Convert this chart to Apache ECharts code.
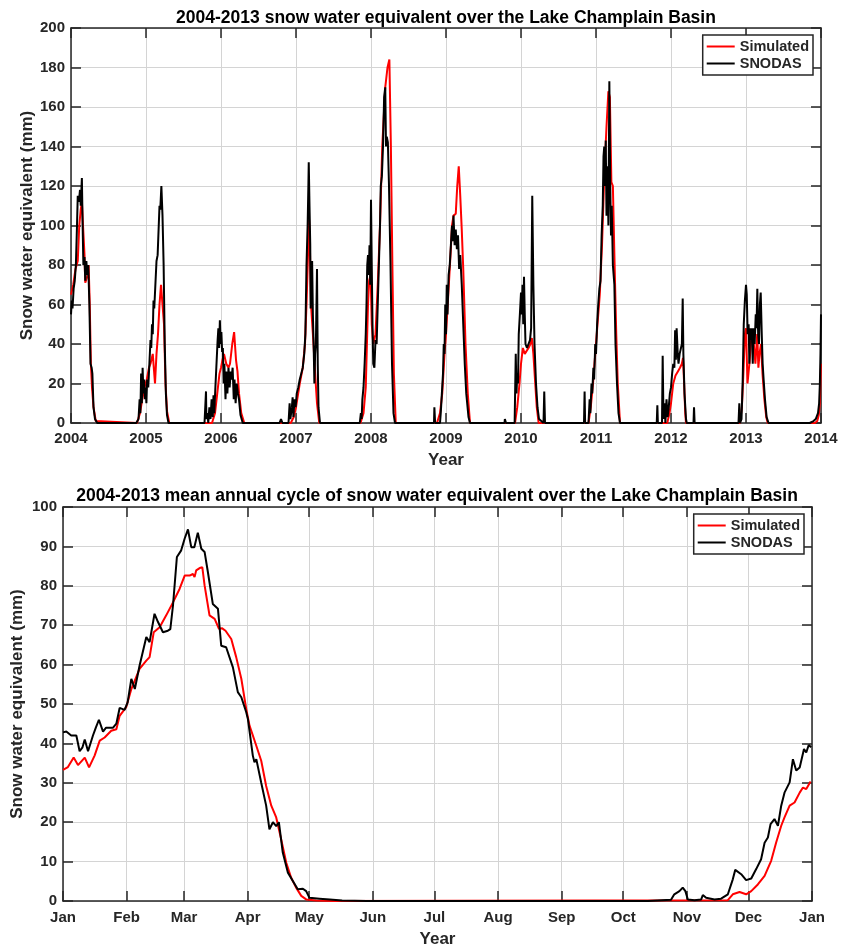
<!DOCTYPE html>
<html>
<head>
<meta charset="utf-8">
<title>Snow water equivalent - Lake Champlain Basin</title>
<script src="https://cdn.jsdelivr.net/npm/echarts@6/dist/echarts.min.js"></script>
<style>
  html, body { margin: 0; padding: 0; background: #fff; }
  #chart { width: 842px; height: 946px; }
</style>
</head>
<body>
<div id="chart"></div>
<script>
// ---- values ----
// top panel: [decimal year, SWE mm]
const simDaily = [
  [2004.0, 65], [2004.03, 70], [2004.06, 78], [2004.09, 82], [2004.11, 100], [2004.13, 108], [2004.145, 112],
  [2004.16, 100], [2004.18, 85], [2004.19, 71], [2004.21, 70], [2004.225, 75], [2004.235, 80], [2004.25, 60],
  [2004.265, 30], [2004.28, 18], [2004.3, 8], [2004.33, 1], [2004.35, 0],
  [2004.88, 0], [2004.92, 5], [2004.95, 12], [2004.98, 18], [2005.01, 22], [2005.04, 28], [2005.06, 30],
  [2005.09, 35], [2005.11, 25], [2005.12, 20], [2005.14, 35], [2005.16, 45], [2005.18, 60], [2005.2, 70],
  [2005.225, 70], [2005.24, 50], [2005.26, 20], [2005.28, 6], [2005.31, 0],
  [2005.88, 0], [2005.92, 5], [2005.95, 15], [2005.98, 25], [2006.0, 28], [2006.02, 32], [2006.04, 35],
  [2006.07, 30], [2006.1, 28], [2006.12, 30], [2006.15, 40], [2006.175, 46], [2006.2, 32], [2006.22, 26],
  [2006.24, 15], [2006.27, 5], [2006.31, 0],
  [2006.93, 0], [2006.97, 3], [2007.0, 8], [2007.05, 20], [2007.09, 28], [2007.12, 40], [2007.14, 60],
  [2007.16, 85], [2007.175, 103], [2007.185, 90], [2007.2, 60], [2007.23, 42], [2007.26, 22], [2007.28, 10],
  [2007.31, 0],
  [2007.86, 0], [2007.9, 5], [2007.93, 18], [2007.96, 60], [2007.975, 72], [2007.995, 75], [2008.01, 50],
  [2008.03, 40], [2008.06, 45], [2008.09, 70], [2008.12, 100], [2008.15, 140], [2008.19, 170], [2008.22, 180],
  [2008.245, 184], [2008.265, 140], [2008.285, 80], [2008.305, 25], [2008.33, 0],
  [2008.88, 0], [2008.92, 5], [2008.95, 15], [2008.98, 35], [2009.0, 45], [2009.03, 65], [2009.06, 85],
  [2009.08, 100], [2009.1, 105], [2009.13, 106], [2009.15, 120], [2009.17, 130], [2009.19, 115], [2009.21, 98],
  [2009.23, 78], [2009.26, 40], [2009.29, 15], [2009.32, 0],
  [2009.92, 0], [2009.95, 8], [2009.98, 20], [2010.0, 30], [2010.025, 38], [2010.05, 35], [2010.07, 36],
  [2010.1, 38], [2010.125, 40], [2010.145, 43], [2010.165, 35], [2010.19, 20], [2010.21, 8], [2010.235, 0],
  [2010.9, 0], [2010.93, 8], [2010.96, 20], [2010.99, 35], [2011.02, 50], [2011.05, 65], [2011.08, 90],
  [2011.11, 125], [2011.14, 150], [2011.165, 168], [2011.185, 165], [2011.205, 122], [2011.225, 120],
  [2011.245, 85], [2011.27, 45], [2011.29, 20], [2011.32, 0],
  [2011.95, 0], [2011.98, 5], [2012.0, 10], [2012.03, 20], [2012.06, 24], [2012.09, 26], [2012.12, 28],
  [2012.145, 30], [2012.16, 33], [2012.175, 20], [2012.19, 5], [2012.2, 0],
  [2012.92, 0], [2012.945, 8], [2012.965, 25], [2012.985, 45], [2013.0, 48], [2013.02, 20], [2013.045, 30],
  [2013.075, 45], [2013.1, 42], [2013.125, 30], [2013.15, 45], [2013.165, 28], [2013.18, 35], [2013.2, 40],
  [2013.22, 25], [2013.245, 12], [2013.27, 3], [2013.29, 0],
  [2013.92, 0], [2013.95, 1], [2013.97, 4], [2013.985, 10], [2014.0, 30]
];

const snodasDaily = [
  [2004.0, 55], [2004.01, 62], [2004.02, 58], [2004.035, 68], [2004.05, 72], [2004.065, 80], [2004.08, 100],
  [2004.09, 115], [2004.105, 112], [2004.12, 118], [2004.13, 110], [2004.145, 124], [2004.155, 100],
  [2004.165, 80], [2004.18, 84], [2004.19, 72], [2004.205, 82], [2004.215, 75], [2004.23, 80], [2004.245, 60],
  [2004.26, 30], [2004.275, 28], [2004.285, 25], [2004.3, 8], [2004.32, 2], [2004.35, 0],
  [2004.87, 0], [2004.9, 2], [2004.915, 12], [2004.925, 5], [2004.935, 25], [2004.945, 10], [2004.955, 28],
  [2004.965, 15], [2004.975, 22], [2004.985, 12], [2004.995, 18], [2005.005, 10], [2005.015, 22], [2005.03, 18],
  [2005.045, 30], [2005.06, 42], [2005.07, 38], [2005.08, 50], [2005.09, 45], [2005.1, 62], [2005.11, 58],
  [2005.125, 70], [2005.14, 82], [2005.155, 85], [2005.17, 100], [2005.18, 110], [2005.19, 108],
  [2005.205, 120], [2005.22, 105], [2005.235, 80], [2005.25, 40], [2005.265, 15], [2005.28, 4], [2005.3, 0],
  [2005.78, 0], [2005.8, 16], [2005.805, 2], [2005.82, 5], [2005.83, 0], [2005.845, 8], [2005.86, 2],
  [2005.875, 12], [2005.89, 3], [2005.9, 14], [2005.91, 5], [2005.925, 18], [2005.94, 30], [2005.955, 42],
  [2005.965, 48], [2005.975, 38], [2005.985, 52], [2005.995, 40], [2006.005, 46], [2006.015, 36],
  [2006.025, 38], [2006.035, 20], [2006.045, 30], [2006.06, 12], [2006.07, 26], [2006.085, 15], [2006.1, 28],
  [2006.115, 18], [2006.13, 26], [2006.14, 22], [2006.155, 28], [2006.17, 12], [2006.18, 22], [2006.195, 10],
  [2006.21, 20], [2006.225, 15], [2006.24, 12], [2006.26, 4], [2006.29, 0],
  [2006.78, 0], [2006.8, 2], [2006.82, 0], [2006.9, 0], [2006.915, 10], [2006.925, 2], [2006.945, 8],
  [2006.955, 13], [2006.965, 3], [2006.98, 12], [2006.995, 8], [2007.01, 15], [2007.03, 18], [2007.05, 22],
  [2007.07, 25], [2007.09, 28], [2007.11, 35], [2007.125, 45], [2007.14, 80], [2007.155, 100], [2007.165, 120],
  [2007.17, 132], [2007.18, 110], [2007.19, 90], [2007.195, 58], [2007.205, 75], [2007.215, 82], [2007.225, 55],
  [2007.235, 40], [2007.245, 20], [2007.255, 35], [2007.265, 40], [2007.28, 78], [2007.29, 30], [2007.3, 8],
  [2007.32, 0],
  [2007.85, 0], [2007.865, 5], [2007.875, 2], [2007.885, 12], [2007.9, 18], [2007.915, 30], [2007.93, 45],
  [2007.94, 60], [2007.95, 80], [2007.96, 85], [2007.97, 75], [2007.98, 90], [2007.99, 70], [2008.0, 113],
  [2008.01, 80], [2008.02, 50], [2008.03, 30], [2008.045, 28], [2008.06, 42], [2008.075, 40], [2008.09, 60],
  [2008.105, 80], [2008.12, 100], [2008.13, 120], [2008.145, 125], [2008.16, 140], [2008.175, 165],
  [2008.19, 170], [2008.2, 140], [2008.21, 145], [2008.225, 142], [2008.24, 120], [2008.26, 80], [2008.28, 30],
  [2008.3, 5], [2008.32, 0],
  [2008.84, 0], [2008.845, 8], [2008.855, 0], [2008.92, 0], [2008.93, 5], [2008.945, 15], [2008.96, 25],
  [2008.97, 40], [2008.98, 35], [2008.99, 60], [2009.0, 45], [2009.01, 70], [2009.02, 55], [2009.035, 75],
  [2009.05, 80], [2009.065, 90], [2009.08, 100], [2009.09, 92], [2009.1, 105], [2009.115, 90], [2009.13, 98],
  [2009.145, 88], [2009.16, 95], [2009.175, 78], [2009.19, 85], [2009.21, 70], [2009.23, 50], [2009.25, 30],
  [2009.27, 15], [2009.3, 3], [2009.32, 0],
  [2009.78, 0], [2009.785, 2], [2009.8, 0], [2009.915, 0], [2009.93, 35], [2009.94, 15], [2009.95, 25],
  [2009.96, 20], [2009.97, 45], [2009.985, 55], [2010.0, 66], [2010.01, 55], [2010.02, 70], [2010.03, 50],
  [2010.04, 74], [2010.05, 55], [2010.06, 40], [2010.08, 38], [2010.1, 40], [2010.12, 42], [2010.135, 48],
  [2010.15, 115], [2010.165, 70], [2010.18, 40], [2010.2, 20], [2010.22, 8], [2010.24, 2], [2010.26, 1],
  [2010.3, 0], [2010.31, 16], [2010.32, 0],
  [2010.84, 0], [2010.848, 16], [2010.855, 0], [2010.9, 0], [2010.915, 12], [2010.925, 5], [2010.94, 20],
  [2010.95, 15], [2010.965, 28], [2010.975, 22], [2010.99, 40], [2011.0, 35], [2011.015, 50], [2011.03, 60],
  [2011.045, 68], [2011.06, 72], [2011.075, 95], [2011.09, 110], [2011.1, 135], [2011.11, 140], [2011.12, 120],
  [2011.13, 143], [2011.14, 105], [2011.155, 130], [2011.165, 100], [2011.178, 173], [2011.19, 120],
  [2011.2, 95], [2011.21, 110], [2011.225, 80], [2011.245, 70], [2011.26, 40], [2011.28, 20], [2011.3, 5],
  [2011.32, 0],
  [2011.81, 0], [2011.818, 9], [2011.825, 0], [2011.88, 0], [2011.889, 34], [2011.9, 2], [2011.915, 10],
  [2011.925, 0], [2011.94, 12], [2011.955, 3], [2011.97, 8], [2011.985, 15], [2012.0, 18], [2012.015, 25],
  [2012.03, 30], [2012.045, 28], [2012.055, 47], [2012.065, 32], [2012.075, 48], [2012.09, 35], [2012.1, 30],
  [2012.115, 35], [2012.13, 34], [2012.145, 40], [2012.156, 63], [2012.165, 35], [2012.18, 15], [2012.2, 2],
  [2012.21, 0], [2012.3, 0], [2012.307, 8], [2012.315, 0],
  [2012.9, 0], [2012.911, 10], [2012.92, 0], [2012.94, 2], [2012.955, 20], [2012.97, 50], [2012.985, 62],
  [2013.0, 70], [2013.01, 65], [2013.022, 45], [2013.035, 50], [2013.045, 30], [2013.055, 48], [2013.065, 42],
  [2013.076, 48], [2013.09, 30], [2013.1, 48], [2013.115, 40], [2013.13, 55], [2013.14, 48], [2013.151, 68],
  [2013.162, 45], [2013.173, 40], [2013.185, 60], [2013.196, 66], [2013.21, 45], [2013.222, 30],
  [2013.235, 22], [2013.253, 12], [2013.275, 3], [2013.3, 0],
  [2013.85, 0], [2013.9, 1], [2013.93, 2], [2013.96, 5], [2013.975, 10], [2013.985, 20], [2013.993, 35],
  [2014.0, 55]
];

// bottom panel: [day of year, mean SWE mm]
const simCycle = [
  [0, 33.3], [2.4, 34], [5.2, 36.4], [7.3, 34.5], [10.6, 36.4], [12.7, 33.9], [15.4, 36.9], [17.9, 40.7],
  [20.3, 41.5], [23.5, 43.2], [26, 43.6], [27.6, 47], [30.8, 49.2], [33.3, 53.8], [37.3, 58.9], [40.6, 61],
  [42.2, 61.9], [44.2, 68.2], [47.1, 69.5], [50.3, 72.5], [53.6, 75.8], [56.8, 79.2], [59.3, 82.6],
  [61.7, 82.6], [63.3, 83], [64.1, 82.2], [64.9, 83.9], [66.6, 84.5], [67.9, 84.7], [69, 80.1], [71.4, 72.5],
  [73.9, 71.6], [76, 69.1], [77.6, 69.2], [79.2, 68.6], [82, 66.5], [84.4, 61.9], [86.9, 56.4], [89.3, 48.7],
  [90.9, 44.5], [94.2, 39.4], [96.6, 35.6], [99, 29.2], [101.5, 24.2], [103.9, 21.2], [106.3, 15.7],
  [108.8, 9.7], [111.2, 5.9], [113.6, 3.4], [116.1, 1.3], [118.5, 0.4], [123.4, 0.1], [131.5, 0],
  [324, 0.2], [326.4, 1.7], [329.7, 2.3], [332.9, 1.7], [335.4, 2.5], [338.6, 4.2], [341.9, 6.4],
  [345.1, 10.2], [347.5, 14.8], [350, 19.1], [351.6, 21.2], [354.1, 24.2], [356.5, 25], [359, 27.5],
  [360.6, 28.8], [362.2, 28.4], [364.3, 30.3]
];

const snodasCycle = [
  [0, 42.8], [1.6, 43], [4, 42], [6.5, 42], [8.1, 38], [9.5, 39], [10.6, 41], [12.2, 38], [14.6, 42],
  [16, 44], [17.5, 46], [19.5, 43], [21, 44], [24.4, 44], [26, 45], [27.6, 49], [30, 48.5], [31.5, 50.4],
  [33.3, 56.4], [35, 53.8], [37.3, 59.7], [40.6, 67], [42.2, 65.7], [44.6, 72.9], [46.3, 70.8], [48.7, 68.2],
  [51.1, 68.6], [52.3, 69], [53.6, 75], [55.5, 87.3], [57.6, 89], [59.3, 92], [60.9, 94.3], [62.5, 89.8],
  [64, 89.8], [65.7, 93.5], [67.4, 89.4], [69, 88.6], [70.6, 83.5], [73, 75.4], [75.5, 74.2], [77.1, 64.8],
  [79.5, 64.4], [82.8, 59.3], [85.2, 53], [86.9, 51.7], [89.3, 47.9], [90.1, 46.2], [92.5, 36.9],
  [93.3, 35.2], [94.2, 36], [96.6, 30], [99, 24.2], [100.6, 18.2], [102.3, 20], [103.9, 19], [105.2, 20],
  [107.1, 12.3], [109.6, 7.2], [112, 5.1], [114.4, 3], [116.9, 3.1], [118.5, 2.5], [120.1, 0.8], [125, 0.6],
  [130, 0.4], [136, 0.1], [148, 0], [285, 0], [296.3, 0.3], [297.9, 1.7], [300.4, 2.5], [302, 3.4],
  [303.3, 2.5], [304.5, 0.4], [307.7, 0.2], [311, 0.4], [311.8, 1.5], [313.4, 0.8], [317.5, 0.4],
  [320.7, 0.6], [324, 1.7], [326.4, 5.5], [327.6, 7.9], [330.5, 6.8], [332.9, 5.3], [335.4, 5.7],
  [337.8, 8.1], [340.2, 10.6], [341.9, 14.8], [343.5, 16.1], [344.8, 19.5], [346.7, 20.8], [348.4, 19.1],
  [350, 24.2], [351.6, 27.5], [354.1, 30.1], [355.7, 36], [357.3, 33.1], [359, 33.9], [361.1, 38.6],
  [362.2, 37.7], [363.4, 39.6], [364.6, 39]
];

// month ticks for the annual cycle (day of year where each month starts)
const monthStart = [0, 31, 59, 90, 120, 151, 181, 212, 243, 273, 304, 334, 365];
const monthNames = ['Jan', 'Feb', 'Mar', 'Apr', 'May', 'Jun', 'Jul', 'Aug', 'Sep', 'Oct', 'Nov', 'Dec', 'Jan'];

// ---- styling ----
const font = "'Liberation Sans', Arial, Helvetica, sans-serif";
const ink = '#262626';
const gridGray = '#d4d4d4';

const lineSty = { color: ink, width: 1.5 };
const tickSty = { show: true, inside: true, length: 10, lineStyle: lineSty };
const labelSty = { color: ink, fontFamily: font, fontWeight: 'bold', fontSize: 15 };
const nameSty = { color: ink, fontFamily: font, fontWeight: 'bold', fontSize: 17 };

// mirrored axis, only draws the box edge and its inward ticks
function mirror(kind, grid, extra) {
  return Object.assign({
    gridIndex: grid,
    type: 'value',
    position: kind === 'x' ? 'top' : 'right',
    axisLine: { show: true, onZero: false, lineStyle: lineSty },
    axisTick: tickSty,
    axisLabel: { show: false },
    splitLine: { show: false }
  }, extra);
}

function legendAt(right, top) {
  return {
    data: ['Simulated', 'SNODAS'],
    orient: 'vertical',
    right: right,
    top: top,
    padding: [4, 4, 4, 3],
    itemWidth: 28,
    itemHeight: 14,
    itemGap: 2,
    itemStyle: { opacity: 0 },   // plain line, no marker
    backgroundColor: '#fff',
    borderColor: ink,
    borderWidth: 1.5,
    textStyle: { color: ink, fontFamily: font, fontWeight: 'bold', fontSize: 14.5 }
  };
}

function titleAt(text, cx, top) {
  return {
    text: text,
    left: cx,
    top: top,
    textAlign: 'center',
    padding: 0,
    textStyle: { color: '#000', fontFamily: font, fontWeight: 'bold', fontSize: 17.5 }
  };
}

const chart = echarts.init(document.getElementById('chart'));

chart.setOption({
  animation: false,
  backgroundColor: '#fff',
  title: [
    titleAt('2004-2013 snow water equivalent over the Lake Champlain Basin', 446, 9),
    titleAt('2004-2013 mean annual cycle of snow water equivalent over the Lake Champlain Basin', 437, 487)
  ],
  legend: [legendAt(29, 35), legendAt(38, 514)],
  grid: [
    { left: 71, top: 28, width: 750, height: 395, outerBoundsMode: 'none' },
    { left: 63, top: 507, width: 749, height: 394, outerBoundsMode: 'none' }
  ],
  xAxis: [
    {
      gridIndex: 0, type: 'value', min: 2004, max: 2014, interval: 1,
      name: 'Year', nameLocation: 'middle', nameGap: 29, nameTextStyle: nameSty,
      axisLine: { show: true, onZero: false, lineStyle: lineSty },
      axisTick: tickSty,
      axisLabel: Object.assign({ margin: 8, showMinLabel: true, showMaxLabel: true,
        formatter: v => String(v) }, labelSty),
      splitLine: { show: true, lineStyle: { color: gridGray, width: 1 } }
    },
    mirror('x', 0, { min: 2004, max: 2014, interval: 1 }),
    {
      gridIndex: 1, type: 'value', min: 0, max: 365,
      name: 'Year', nameLocation: 'middle', nameGap: 30, nameTextStyle: nameSty,
      axisLine: { show: true, onZero: false, lineStyle: lineSty },
      axisTick: Object.assign({ customValues: monthStart }, tickSty),
      axisLabel: Object.assign({ margin: 9, customValues: monthStart,
        formatter: v => monthNames[monthStart.indexOf(v)] }, labelSty),
      splitLine: { show: true, lineStyle: { color: gridGray, width: 1 } }
    },
    mirror('x', 1, { min: 0, max: 365, axisTick: Object.assign({ customValues: monthStart }, tickSty) })
  ],
  yAxis: [
    {
      gridIndex: 0, type: 'value', min: 0, max: 200, interval: 20,
      name: 'Snow water equivalent (mm)', nameLocation: 'middle', nameGap: 35, nameMoveOverlap: false,
      nameTextStyle: nameSty,
      axisLine: { show: true, lineStyle: lineSty },
      axisTick: tickSty,
      axisLabel: Object.assign({ margin: 6 }, labelSty),
      splitLine: { show: true, lineStyle: { color: gridGray, width: 1 } }
    },
    mirror('y', 0, { min: 0, max: 200, interval: 20 }),
    {
      gridIndex: 1, type: 'value', min: 0, max: 100, interval: 10,
      name: 'Snow water equivalent (mm)', nameLocation: 'middle', nameGap: 37, nameMoveOverlap: false,
      nameTextStyle: nameSty,
      axisLine: { show: true, lineStyle: lineSty },
      axisTick: tickSty,
      axisLabel: Object.assign({ margin: 6 }, labelSty),
      splitLine: { show: true, lineStyle: { color: gridGray, width: 1 } }
    },
    mirror('y', 1, { min: 0, max: 100, interval: 10 })
  ],
  series: [
    { name: 'Simulated', type: 'line', xAxisIndex: 0, yAxisIndex: 0, data: simDaily,
      symbol: 'none', lineStyle: { color: '#ff0000', width: 2 }, itemStyle: { color: '#ff0000' } },
    { name: 'SNODAS', type: 'line', xAxisIndex: 0, yAxisIndex: 0, data: snodasDaily,
      symbol: 'none', lineStyle: { color: '#000', width: 2 }, itemStyle: { color: '#000' } },
    { name: 'Simulated', type: 'line', xAxisIndex: 2, yAxisIndex: 2, data: simCycle,
      symbol: 'none', lineStyle: { color: '#ff0000', width: 2 }, itemStyle: { color: '#ff0000' } },
    { name: 'SNODAS', type: 'line', xAxisIndex: 2, yAxisIndex: 2, data: snodasCycle,
      symbol: 'none', lineStyle: { color: '#000', width: 2 }, itemStyle: { color: '#000' } }
  ]
});
</script>
</body>
</html>
